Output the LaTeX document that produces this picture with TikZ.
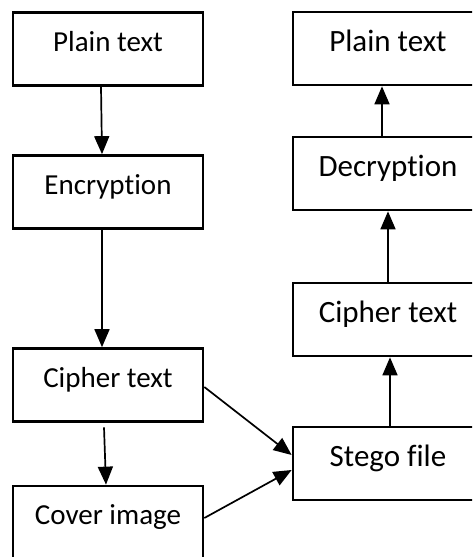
\documentclass[tikz,border=0pt]{standalone}
\usepackage{fontspec}
\setmainfont{Carlito}[Ligatures={NoCommon}]
\usetikzlibrary{arrows.meta}

\begin{document}
\begin{tikzpicture}[x=1pt,y=1pt,
    blk/.style={draw,line width=2.7pt,minimum width=190pt,minimum height=73pt,inner sep=0pt},
    lbox/.style={blk,font=\fontsize{29}{31}\selectfont,text height=14pt,text depth=10pt},
    rbox/.style={blk,font=\fontsize{31}{33}\selectfont,text height=15pt,text depth=9.4pt},
    flow/.style={line width=1.7pt,-{Triangle[width=15pt,length=18pt]}}]
            \useasboundingbox (0,0) rectangle (472,-557);
            \clip (0,0) rectangle (472,-557);

            % sender side
            \node[lbox] (lplain) at (108,-49){Plain text};
            \node[lbox] (lenc) at (108,-192){Encryption};
            \node[lbox] (lcipher) at (108,-385){Cipher text};
            \node[lbox] (lcover) at (108,-522.5){Cover image};

            % receiver side
            \node[rbox] (rplain) at (388,-48.5){Plain text};
            \node[rbox] (rdec) at (388,-173.5){Decryption};
            \node[rbox] (rcipher) at (388,-319.5){Cipher text};
            \node[rbox] (rstego) at (388,-463.5){Stego file};

            \draw[flow] ([xshift=-7pt]lplain.south) -- ([xshift=-6pt]lenc.north);
            \draw[flow] ([xshift=-6pt]lenc.south) -- ([xshift=-6pt]lcipher.north);
            \draw[flow] ([xshift=-4pt,yshift=-4.5pt]lcipher.south) -- ([xshift=-2pt]lcover.north);

            \draw[flow] ([yshift=-2pt]lcipher.east) -- ([yshift=8.5pt]rstego.west);
            \draw[flow] ([yshift=4.5pt]lcover.east) -- ([yshift=-6.5pt]rstego.west);

            \draw[flow] ([xshift=2pt]rstego.north) -- ([xshift=2pt]rcipher.south);
            \draw[flow] (rcipher.north) -- (rdec.south);
            \draw[flow] ([xshift=-6pt]rdec.north) -- ([xshift=-6pt]rplain.south);
\end{tikzpicture}
\end{document}
